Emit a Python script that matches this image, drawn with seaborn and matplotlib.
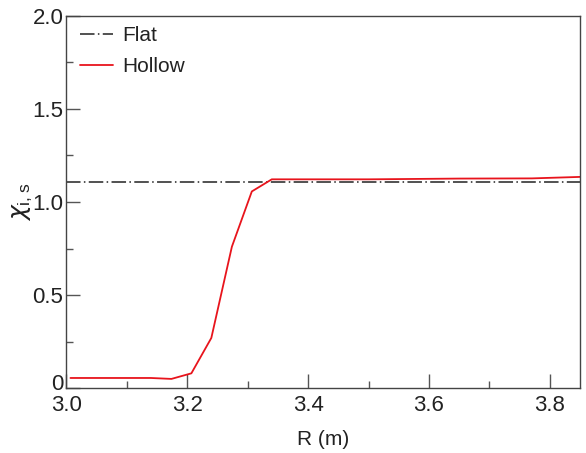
import matplotlib
matplotlib.use("Agg")
import matplotlib.pyplot as plt
import matplotlib.transforms as mtransforms
import seaborn as sns
import pandas as pd
import numpy as np
from matplotlib.ticker import MultipleLocator, FixedLocator

sns.set_style("ticks")
plt.rcParams['font.family'] = ['Liberation Sans', 'DejaVu Sans']
plt.rcParams['mathtext.fontset'] = 'custom'
plt.rcParams['mathtext.rm'] = 'Liberation Sans'
plt.rcParams['mathtext.it'] = 'DejaVu Sans:italic'

# Data
R_hollow = [3.007, 3.04, 3.073, 3.107, 3.14, 3.174, 3.207, 3.24, 3.274, 3.307, 3.34, 3.50, 3.65, 3.77, 3.85]
chi_hollow = [0.055, 0.055, 0.055, 0.055, 0.055, 0.05, 0.08, 0.27, 0.76, 1.057, 1.122, 1.122, 1.126, 1.127, 1.135]
R_flat = [3.0, 3.85]
chi_flat = [1.105, 1.105]
xticks = [3.0, 3.2, 3.4, 3.6, 3.8]
xticklabels = ["3.0", "3.2", "3.4", "3.6", "3.8"]
yticks = [0, 0.5, 1.0, 1.5, 2.0]
yticklabels = ["0", "0.5", "1.0", "1.5", "2.0"]

fig = plt.figure(figsize=(5.86, 4.53), dpi=100)
ax = fig.add_axes([0.113, 0.143, 0.877, 0.822])

df_flat = pd.DataFrame({"R": R_flat, "chi": chi_flat})
df_hollow = pd.DataFrame({"R": R_hollow, "chi": chi_hollow})

sns.lineplot(data=df_flat, x="R", y="chi", ax=ax, color="#222222", lw=1.1,
             dashes=False, label="Flat", sort=False)
ax.lines[-1].set_dashes([9.5, 2.2, 1.0, 2.2])
sns.lineplot(data=df_hollow, x="R", y="chi", ax=ax, color="#e8141c", lw=1.3,
             label="Hollow", sort=False)

ax.set_xlim(3.0, 3.85)
ax.set_ylim(0, 2.0)
ax.xaxis.set_major_locator(FixedLocator(xticks))
ax.set_xticklabels(xticklabels)
ax.xaxis.set_minor_locator(MultipleLocator(0.1))
ax.yaxis.set_major_locator(FixedLocator(yticks))
ax.set_yticklabels(yticklabels)
ax.yaxis.set_minor_locator(MultipleLocator(0.25))

ax.tick_params(which='major', direction='in', length=10, width=1.0, color='#555555',
               labelsize=16, labelcolor='#222222')
ax.tick_params(axis='x', which='major', pad=5)
ax.tick_params(axis='y', which='major', pad=2)
ax.tick_params(which='minor', direction='in', length=5, width=1.0, color='#555555')
for s in ax.spines.values():
    s.set_color('#444444')
    s.set_linewidth(1.0)

# shift the "0" y tick label up slightly, as in the reference
lbl0 = ax.get_yticklabels()[0]
lbl0.set_transform(lbl0.get_transform() + mtransforms.ScaledTranslation(0, 6 / 100, fig.dpi_scale_trans))

ax.set_xlabel("R (m)", fontsize=15, color='#222222', labelpad=10)
ax.set_ylabel(r"$\chi_{\rm i,s}$", fontsize=18, color='#222222')
ax.yaxis.set_label_coords(-0.062, 0.5)

leg = ax.legend(loc='upper left', frameon=False, fontsize=15, handlelength=1.6,
                handletextpad=0.45, labelspacing=0.55, borderaxespad=0.25,
                bbox_to_anchor=(0.0, 1.008))
for t in leg.get_texts():
    t.set_color('#222222')

fig.savefig("out.png", dpi=100)
